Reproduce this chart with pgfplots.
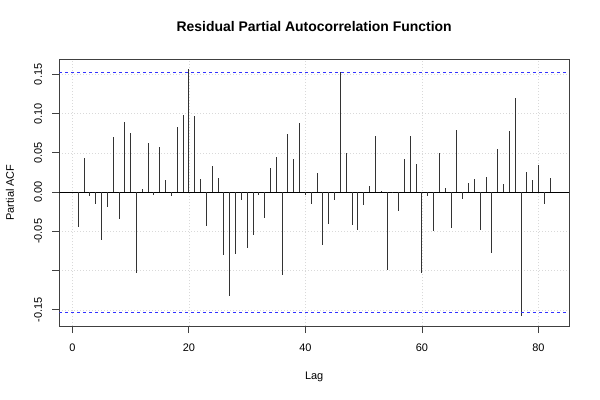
\documentclass[border=0pt]{standalone}
\usepackage{fontspec}
\setmainfont{Liberation Sans}
\usepackage{pgfplots}
\pgfplotsset{compat=1.18}

\pgfplotstableread{
lag pacf
1 -0.0449
2 0.0432
3 -0.0055
4 -0.0157
5 -0.0614
6 -0.0195
7 0.0699
8 -0.0343
9 0.0889
10 0.0754
11 -0.1029
12 0.0042
13 0.0623
14 -0.0034
15 0.0576
16 0.0152
17 -0.0055
18 0.0830
19 0.0983
20 0.1567
21 0.0970
22 0.0165
23 -0.0436
24 0.0330
25 0.0182
26 -0.0796
27 -0.1326
28 -0.0784
29 -0.0106
30 -0.0716
31 -0.0542
32 -0.0042
33 -0.0335
34 0.0309
35 0.0453
36 -0.1059
37 0.0745
38 0.0419
39 0.0881
40 -0.0040
41 -0.0157
42 0.0246
43 -0.0678
44 -0.0407
45 -0.0102
46 0.1533
47 0.0496
48 -0.0424
49 -0.0487
50 -0.0165
51 0.0080
52 0.0716
53 0.0010
54 -0.0995
55 -0.0010
56 -0.0246
57 0.0424
58 0.0720
59 0.0360
60 -0.1033
61 -0.0047
62 -0.0500
63 0.0496
64 0.0051
65 -0.0457
66 0.0788
67 -0.0093
68 0.0119
69 0.0165
70 -0.0483
71 0.0190
72 -0.0775
73 0.0551
74 0.0102
75 0.0775
76 0.1199
77 -0.1580
78 0.0258
79 0.0152
80 0.0339
81 -0.0152
82 0.0174
}\pacf

\begin{document}
\begin{tikzpicture}
\useasboundingbox (-59.3bp,-74bp) rectangle (540.7bp,326bp);
\begin{axis}[
  at={(0,0)}, anchor=south west,
  scale only axis, width=509.7bp, height=267bp,
  xmin=-2.24, xmax=85.24,
  ymin=-0.1706, ymax=0.1696,
  axis line style={black!75, line width=0.8bp},
  xtick={0,20,40,60,80},
  xticklabels={0,20,40,60,80},
  ytick={-0.15,-0.1,-0.05,0,0.05,0.1,0.15},
  yticklabels={-0.15,,-0.05,0.00,0.05,0.10,0.15},
  xtick pos=left, ytick pos=left,
  tick align=outside,
  major tick length=7bp,
  tick style={black!75, line width=0.8bp},
  grid=major,
  grid style={dash pattern=on 1bp off 2bp, gray!30, line width=0.6bp},
  tick label style={font=\fontsize{11}{13}\selectfont},
  xticklabel style={anchor=base, yshift=-18bp},
  yticklabel style={xshift=-10.5bp, anchor=base, rotate=90},
  every axis title/.style={at={(axis description cs:0.5,1.1022)}, anchor=base,
    font=\bfseries\fontsize{14}{16}\selectfont},
  every axis x label/.style={at={(axis description cs:0.5,-0.1985)}, anchor=base,
    font=\fontsize{11}{13}\selectfont},
  every axis y label/.style={at={(axis description cs:-0.0889,0.5)}, anchor=base, rotate=90,
    font=\fontsize{11}{13}\selectfont},
  title={Residual Partial Autocorrelation Function},
  xlabel={Lag},
  ylabel={Partial ACF},
]
\addplot[black, line width=0.6bp] coordinates {(-2.24,0) (85.24,0)};
\addplot[ycomb, black!80, line width=0.9bp] table[x=lag, y=pacf] {\pacf};
\addplot[blue!80, dash pattern=on 3bp off 3bp, line width=0.5bp] coordinates {(-2.24,0.153) (85.24,0.153)};
\addplot[blue!80, dash pattern=on 3bp off 3bp, line width=0.5bp] coordinates {(-2.24,-0.153) (85.24,-0.153)};
\end{axis}
\end{tikzpicture}
\end{document}
